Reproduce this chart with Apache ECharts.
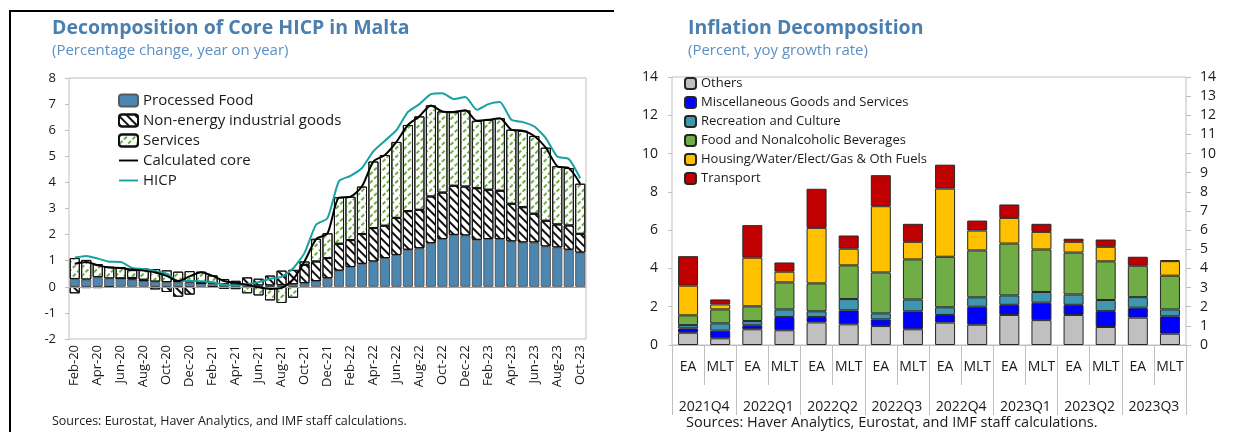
<!DOCTYPE html>
<html><head><meta charset="utf-8">
<script src="https://cdn.jsdelivr.net/npm/echarts@6/dist/echarts.min.js"></script>
<style>html,body{margin:0;padding:0;background:#fff}#c{width:1243px;height:432px}</style>
</head><body><div id="c"></div>
<script>
// ---------- Left chart data ----------
const months = ['Feb-20','Mar-20','Apr-20','May-20','Jun-20','Jul-20','Aug-20','Sep-20','Oct-20','Nov-20','Dec-20',
  'Jan-21','Feb-21','Mar-21','Apr-21','May-21','Jun-21','Jul-21','Aug-21','Sep-21','Oct-21','Nov-21','Dec-21',
  'Jan-22','Feb-22','Mar-22','Apr-22','May-22','Jun-22','Jul-22','Aug-22','Sep-22','Oct-22','Nov-22','Dec-22',
  'Jan-23','Feb-23','Mar-23','Apr-23','May-23','Jun-23','Jul-23','Aug-23','Sep-23','Oct-23'];
const processedFood = [0.30,0.28,0.37,0.32,0.32,0.28,0.22,0.20,0.18,0.18,0.17,
  0.14,0.12,0.10,0.08,0.06,0.05,0.05,0.07,0.10,0.14,0.22,0.33,
  0.62,0.76,0.88,0.97,1.10,1.22,1.42,1.48,1.67,1.83,1.99,1.97,
  1.80,1.83,1.83,1.74,1.70,1.70,1.55,1.51,1.42,1.31];
const nonEnergyGoods = [-0.25,-0.05,-0.05,-0.03,0.00,0.06,0.05,-0.10,-0.20,-0.38,-0.30,
  0.00,-0.02,-0.08,0.15,0.30,0.26,0.38,0.55,0.55,0.70,0.75,0.77,
  1.03,1.03,1.14,1.28,1.24,1.42,1.48,1.47,1.79,1.78,1.88,1.87,
  1.98,1.89,1.85,1.44,1.35,1.10,0.98,0.88,0.93,0.72];
const servicesData = [0.80,0.75,0.50,0.45,0.43,0.30,0.43,0.48,0.45,0.40,0.43,
  0.44,0.32,0.20,-0.09,-0.25,-0.33,-0.52,-0.62,-0.42,0.13,0.87,0.95,
  1.78,1.66,1.82,2.55,2.71,2.91,3.30,3.58,3.49,3.11,2.82,2.92,
  2.58,2.68,2.78,2.84,2.93,2.98,2.80,2.23,2.20,1.92];
const calculatedCore = [0.88,0.95,0.82,0.74,0.72,0.66,0.62,0.55,0.42,0.22,0.40,
  0.56,0.42,0.22,0.15,0.08,-0.02,-0.08,-0.04,0.28,0.97,1.82,2.05,
  3.42,3.45,3.85,4.80,5.05,5.55,6.20,6.53,6.95,6.72,6.70,6.76,
  6.36,6.40,6.46,6.02,5.98,5.78,5.33,4.62,4.55,3.95];
const hicp = [1.12,1.18,1.08,0.96,0.95,0.72,0.68,0.61,0.50,0.21,0.23,
  0.21,0.17,0.08,0.05,0.10,0.18,0.30,0.38,0.70,1.30,2.38,2.63,
  4.05,4.25,4.55,5.20,5.60,6.00,6.70,7.00,7.38,7.42,7.19,7.27,
  6.78,7.00,7.08,6.40,6.31,6.14,5.70,4.99,4.90,4.16];

// ---------- Right chart data ----------
const quarters = ['2021Q4','2022Q1','2022Q2','2022Q3','2022Q4','2023Q1','2023Q2','2023Q3'];
const regions = ['EA','MLT'];
const others     = [0.64,0.35, 0.82,0.77, 1.18,1.08, 0.99,0.82, 1.17,1.06, 1.57,1.30, 1.57,0.94, 1.43,0.59];
const misc       = [0.23,0.40, 0.21,0.69, 0.28,0.73, 0.35,0.94, 0.40,0.94, 0.53,0.91, 0.53,0.83, 0.52,0.91];
const recreation = [0.17,0.38, 0.22,0.40, 0.30,0.59, 0.31,0.62, 0.40,0.49, 0.49,0.56, 0.54,0.58, 0.55,0.36];
const food       = [0.51,0.73, 0.77,1.41, 1.46,1.76, 2.14,2.09, 2.64,2.45, 2.71,2.22, 2.19,2.02, 1.64,1.76];
const housing    = [1.55,0.26, 2.54,0.56, 2.90,0.87, 3.46,0.92, 3.56,1.04, 1.34,0.92, 0.56,0.76, -0.05,0.76];
const transport  = [1.54,0.26, 1.70,0.48, 2.04,0.69, 1.62,0.94, 1.25,0.52, 0.70,0.42, 0.16,0.38, 0.47,0.05];

const rightCats = [];
quarters.forEach(q => regions.forEach(r => rightCats.push(r + '|' + q)));

const FONT = '"Open Sans", "Noto Sans", sans-serif';
const TXT = '#1a1a1a';
const GRID_C = '#bfbfbf';
const LINE_ICON = 'path://M0,0H40V4H0Z';

const chart = echarts.init(document.getElementById('c'));

function rbar(name, data, color) {
  return {
    name, type: 'bar', data, stack: 'r', xAxisIndex: 1, yAxisIndex: 1, barWidth: 20,
    itemStyle: { color, borderColor: '#262626', borderWidth: 1 }
  };
}

const option = {
  animation: false,
  textStyle: { fontFamily: FONT, color: TXT },
  grid: [
    { left: 69, top: 78, width: 517, height: 261, show: true, borderColor: GRID_C, borderWidth: 1 },
    { left: 672, top: 77, width: 514, height: 268, show: true, borderColor: GRID_C, borderWidth: 1 }
  ],
  xAxis: [
    { type: 'category', gridIndex: 0, data: months, position: 'bottom',
      axisLine: { show: false, onZero: false }, axisTick: { show: false },
      axisLabel: { interval: 1, rotate: 90, fontSize: 13, margin: 6, color: TXT, fontFamily: FONT } },
    { type: 'category', gridIndex: 1, data: rightCats, position: 'bottom',
      axisLine: { show: true, onZero: false, lineStyle: { color: GRID_C } },
      axisTick: { show: true, interval: 0, length: 40, lineStyle: { color: GRID_C } },
      axisLabel: { interval: 0, fontSize: 14, margin: 15, color: TXT, fontFamily: FONT,
        formatter: v => v.split('|')[0] } },
    { type: 'category', gridIndex: 1, data: quarters, position: 'bottom',
      axisLine: { show: false },
      axisTick: { show: true, interval: 0, length: 70, lineStyle: { color: GRID_C } },
      axisLabel: { interval: 0, fontSize: 14, margin: 55, color: TXT, fontFamily: FONT } }
  ],
  yAxis: [
    { type: 'value', gridIndex: 0, min: -2, max: 8, interval: 1,
      axisLine: { show: false }, splitLine: { show: false },
      axisTick: { show: true, length: 4, lineStyle: { color: GRID_C } },
      axisLabel: { fontSize: 13, margin: 13, color: TXT, fontFamily: FONT } },
    { type: 'value', gridIndex: 1, min: 0, max: 14, interval: 2, position: 'left',
      axisLine: { show: false }, splitLine: { show: false },
      axisTick: { show: true, length: 4, lineStyle: { color: GRID_C } },
      axisLabel: { fontSize: 14, margin: 14, color: TXT, fontFamily: FONT } },
    { type: 'value', gridIndex: 1, min: 0, max: 14, interval: 1, position: 'right',
      axisLine: { show: false }, splitLine: { show: false },
      axisTick: { show: true, length: 5, lineStyle: { color: GRID_C } },
      axisLabel: { fontSize: 14, margin: 14, color: TXT, fontFamily: FONT } }
  ],
  legend: [
    { data: ['Processed Food', 'Non-energy industrial goods', 'Services',
             { name: 'Calculated core', icon: LINE_ICON }, { name: 'HICP', icon: LINE_ICON }],
      orient: 'vertical', left: 113, top: 88, itemWidth: 19, itemHeight: 12, itemGap: 5,
      textStyle: { fontSize: 15, color: TXT, fontFamily: FONT } },
    { data: ['Others', 'Miscellaneous Goods and Services', 'Recreation and Culture',
             'Food and Nonalcoholic Beverages', 'Housing/Water/Elect/Gas & Oth Fuels', 'Transport'],
      orient: 'vertical', left: 679, top: 72, itemWidth: 11, itemHeight: 11, itemGap: 6,
      textStyle: { fontSize: 13, color: TXT, fontFamily: FONT } }
  ],
  series: [
    { name: 'Processed Food', type: 'bar', stack: 'l', data: processedFood, xAxisIndex: 0, yAxisIndex: 0,
      barCategoryGap: '12%',
      itemStyle: { color: '#4b87b1', borderColor: '#5a5a5a', borderWidth: 1 },
      markLine: { silent: true, symbol: 'none', label: { show: false },
        lineStyle: { color: '#a0a0a0', type: 'solid', width: 1 }, data: [{ yAxis: 0 }] } },
    { name: 'Non-energy industrial goods', type: 'bar', stack: 'l', data: nonEnergyGoods, xAxisIndex: 0, yAxisIndex: 0,
      itemStyle: { color: '#ffffff', borderColor: '#111', borderWidth: 1,
        decal: { symbol: 'rect', symbolSize: 1, color: '#111', dashArrayX: [1, 0], dashArrayY: [1.2, 3.2], rotation: Math.PI / 4 } } },
    { name: 'Services', type: 'bar', stack: 'l', data: servicesData, xAxisIndex: 0, yAxisIndex: 0,
      itemStyle: { color: '#ffffff', borderColor: '#111', borderWidth: 1,
        decal: { symbol: 'rect', symbolSize: 1, color: '#70ad47', dashArrayX: [4, 2], dashArrayY: [1.5, 3.5], rotation: -Math.PI / 4 } } },
    { name: 'Calculated core', type: 'line', data: calculatedCore, xAxisIndex: 0, yAxisIndex: 0,
      symbol: 'none', smooth: 0.25, z: 5, lineStyle: { color: '#000', width: 2 }, itemStyle: { color: '#000' } },
    { name: 'HICP', type: 'line', data: hicp, xAxisIndex: 0, yAxisIndex: 0,
      symbol: 'none', smooth: 0.2, z: 4, lineStyle: { color: '#17a2a2', width: 2 }, itemStyle: { color: '#17a2a2' } },

    rbar('Others', others, '#c0c0c0'),
    rbar('Miscellaneous Goods and Services', misc, '#0000ff'),
    rbar('Recreation and Culture', recreation, '#3e97ae'),
    rbar('Food and Nonalcoholic Beverages', food, '#70ad47'),
    rbar('Housing/Water/Elect/Gas & Oth Fuels', housing, '#ffc000'),
    rbar('Transport', transport, '#c00000')
  ],
  graphic: [
    { type: 'line', shape: { x1: 10, y1: 11, x2: 614, y2: 11 }, style: { stroke: '#000', lineWidth: 2 } },
    { type: 'line', shape: { x1: 10, y1: 10, x2: 10, y2: 432 }, style: { stroke: '#000', lineWidth: 2 } },
    { type: 'text', left: 52, top: 18, style: { text: 'Decomposition of Core HICP in Malta', font: 'bold 19.5px ' + FONT, fill: '#4a7fb2' } },
    { type: 'text', left: 52, top: 43, style: { text: '(Percentage change, year on year)', font: '15px ' + FONT, fill: '#5b8fc6' } },
    { type: 'text', left: 688, top: 18, style: { text: 'Inflation Decomposition', font: 'bold 19.5px ' + FONT, fill: '#4a7fb2' } },
    { type: 'text', left: 688, top: 43, style: { text: '(Percent, yoy growth rate)', font: '15px ' + FONT, fill: '#5b8fc6' } },
    { type: 'text', left: 52, top: 415, style: { text: 'Sources: Eurostat, Haver Analytics, and IMF staff calculations.', font: '12.5px ' + FONT, fill: TXT } },
    { type: 'text', left: 686, top: 415, style: { text: 'Sources: Haver Analytics, Eurostat, and IMF staff calculations.', font: '14.5px ' + FONT, fill: TXT } }
  ]
};
chart.setOption(option);
</script>
</body></html>
